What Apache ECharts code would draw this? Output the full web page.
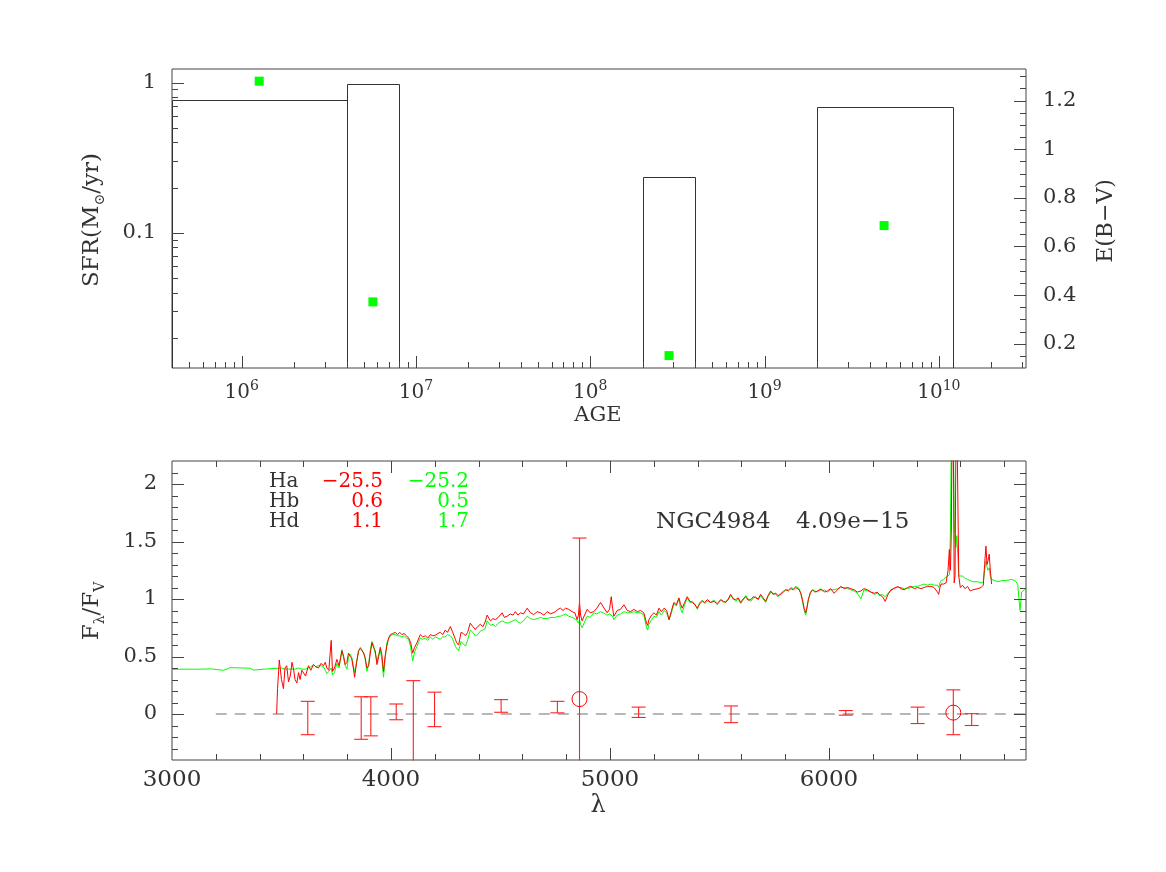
<!DOCTYPE html>
<html>
<head>
<meta charset="utf-8">
<title>NGC4984 SFR / spectrum</title>
<script src="https://cdn.jsdelivr.net/npm/echarts@6/dist/echarts.min.js"></script>
<style>
html, body { margin: 0; padding: 0; background: #fff; }
#chart { width: 1166px; height: 872px; }
</style>
</head>
<body>
<div id="chart"></div>
<script>
// ─── top panel: star formation history ─────────────────────
const ageBinLo = [1e5, 4e6, 2e8, 2e9];
const ageBinHi = [4e6, 8e6, 4e8, 1.2e10];
const sfrValues = [0.76, 0.976, 0.236, 0.69];
const ebvAges = [1.26e6, 5.66e6, 2.83e8, 4.85e9];
const ebvValues = [1.28, 0.372, 0.151, 0.686];

// tick marks (log axes: decade x multiplier)
const ageMajor = [1e6, 1e7, 1e8, 1e9, 1e10];
const ageDecades = [1e5, 1e6, 1e7, 1e8, 1e9, 1e10];
const sfrMajor = [0.1, 1];
const sfrDecades = [0.01, 0.1];
const minorSteps = [2, 3, 4, 5, 6, 7, 8, 9];
const ebvMajor = [0.2, 0.4, 0.6, 0.8, 1.0, 1.2];
const ebvMinorStep = 0.05;
const waveMajor = [3000, 4000, 5000, 6000];
const waveMinorStep = 200;
const fluxMajor = [0, 0.5, 1, 1.5, 2];
const fluxMinorStep = 0.1;

// ─── bottom panel: spectrum, [lambda, F/Fv] ─────────────────
const greenSpectrum = [
  [3000,0.388],[3060,0.390],[3120,0.389],[3180,0.392],[3236,0.380],[3266,0.403],[3320,0.400],[3357,0.398],[3373,0.382],[3420,0.390],[3470,0.396],[3490,0.398],[3500,0.40],[3509,0.395],[3516,0.39],[3524,0.40],[3532,0.39],[3540,0.38],[3548,0.39],[3555,0.40],[3562,0.39],[3570,0.38],[3578,0.40],[3585,0.39],[3593,0.39],[3600,0.40],[3610,0.39],[3623,0.40],[3634,0.41],[3646,0.43],[3657,0.41],[3669,0.42],[3680,0.42],[3692,0.41],[3700,0.38],[3707,0.35],[3716,0.37],[3727,0.40],[3733,0.34],[3742,0.36],[3753,0.44],[3763,0.40],[3776,0.56],[3784,0.48],[3791,0.42],[3799,0.39],[3806,0.50],[3814,0.52],[3821,0.49],[3828,0.42],[3834,0.36],[3843,0.45],[3852,0.55],[3860,0.58],[3867,0.56],[3875,0.53],[3882,0.48],[3890,0.37],[3898,0.43],[3905,0.55],[3913,0.63],[3920,0.60],[3928,0.53],[3936,0.46],[3944,0.52],[3951,0.56],[3958,0.48],[3966,0.32],[3973,0.47],[3981,0.62],[3989,0.65],[3997,0.68],
  [4008,0.69],[4020,0.69],[4030,0.68],[4040,0.68],[4050,0.67],[4060,0.68],[4071,0.66],[4081,0.65],[4090,0.58],[4099,0.46],[4108,0.54],[4119,0.59],[4127,0.63],[4134,0.66],[4145,0.65],[4157,0.66],[4168,0.64],[4180,0.67],[4191,0.65],[4202,0.67],[4214,0.66],[4225,0.65],[4236,0.67],[4248,0.67],[4258,0.69],[4271,0.68],[4280,0.66],[4294,0.59],[4300,0.57],[4309,0.55],[4320,0.63],[4330,0.61],[4340,0.59],[4350,0.64],[4362,0.73],[4374,0.71],[4385,0.68],[4396,0.69],[4408,0.72],[4420,0.73],[4430,0.74],[4439,0.81],[4454,0.77],[4466,0.78],[4477,0.76],[4490,0.79],
  [4507,0.81],[4518,0.80],[4530,0.79],[4545,0.80],[4557,0.81],[4568,0.82],[4580,0.80],[4591,0.79],[4605,0.81],[4622,0.85],[4637,0.83],[4652,0.82],[4668,0.83],[4683,0.84],[4698,0.83],[4713,0.83],[4730,0.84],[4751,0.84],[4763,0.85],[4774,0.85],[4786,0.86],[4797,0.87],[4812,0.85],[4827,0.84],[4840,0.83],[4850,0.81],[4856,0.79],[4861,0.82],[4866,0.78],[4873,0.75],[4884,0.80],[4896,0.85],[4910,0.84],[4926,0.88],[4940,0.87],[4957,0.89],[4970,0.88],[4987,0.86],[4998,0.87],
  [5006,0.88],[5012,0.85],[5018,0.82],[5033,0.86],[5048,0.87],[5064,0.89],[5079,0.88],[5094,0.88],[5109,0.89],[5125,0.88],[5140,0.88],[5155,0.86],[5167,0.75],[5172,0.73],[5178,0.78],[5190,0.82],[5201,0.85],[5212,0.84],[5224,0.89],[5235,0.86],[5247,0.90],[5259,0.88],[5270,0.82],[5281,0.88],[5292,0.96],[5303,0.94],[5315,1.00],[5322,0.92],[5330,0.88],[5341,0.95],[5353,1.01],[5365,0.97],[5376,0.98],[5388,0.96],[5399,0.91],[5410,0.97],[5422,0.99],[5433,0.96],[5445,0.98],[5460,0.97],[5475,0.99],[5490,0.95],
  [5506,0.99],[5518,0.97],[5529,0.98],[5540,0.99],[5551,1.03],[5563,1.01],[5574,0.98],[5586,1.00],[5597,0.96],[5608,0.99],[5620,1.03],[5631,1.00],[5643,0.98],[5655,1.01],[5666,1.02],[5677,0.99],[5688,1.03],[5700,1.00],[5711,0.97],[5722,1.02],[5734,1.06],[5745,1.05],[5757,1.04],[5768,1.02],[5780,1.05],[5792,1.07],[5803,1.08],[5815,1.08],[5826,1.10],[5838,1.09],[5849,1.11],[5864,1.09],[5872,1.04],[5879,0.98],[5887,0.90],[5894,0.86],[5900,0.92],[5906,0.99],[5915,1.06],[5925,1.08],[5936,1.07],[5948,1.06],[5959,1.09],[5970,1.07],[5980,1.08],[5993,1.06],
  [6008,1.08],[6024,1.08],[6039,1.09],[6054,1.10],[6070,1.10],[6085,1.09],[6100,1.08],[6115,1.07],[6130,1.05],[6146,1.00],[6160,1.08],[6176,1.07],[6192,1.06],[6207,1.04],[6220,1.05],[6230,1.03],[6245,1.04],[6257,1.02],[6270,1.05],[6283,1.07],[6298,1.10],[6314,1.10],[6329,1.10],[6344,1.09],[6359,1.09],[6374,1.10],[6390,1.11],[6405,1.11],[6420,1.12],[6435,1.13],[6450,1.12],[6466,1.13],[6480,1.12],[6489,1.13],[6496,1.12],[6501,1.10],[6507,1.14],[6512,1.16],[6524,1.17],[6535,1.19],[6544,1.19],[6550,1.21],[6555,1.60],[6559,2.40],[6563,2.60],[6568,2.50],[6572,1.70],[6576,1.50],[6580,1.45],[6584,1.55],[6588,1.40],[6593,1.20],[6600,1.19],[6610,1.20],[6622,1.18],[6633,1.17],[6645,1.16],[6657,1.15],[6664,1.16],[6680,1.15],[6695,1.14],[6705,1.15],[6711,1.25],[6717,1.33],[6722,1.28],[6726,1.25],[6732,1.27],[6737,1.20],[6743,1.17],[6750,1.16],[6771,1.15],[6790,1.16],[6810,1.16],[6832,1.17],[6850,1.16],[6862,1.13],[6868,1.00],[6873,0.90],[6880,1.06],[6893,1.08],[6905,1.08]
];

const redSpectrum = [
  [3478,0.00],[3482,0.22],[3490,0.47],[3500,0.30],[3509,0.22],[3516,0.40],[3524,0.42],[3532,0.28],[3540,0.33],[3548,0.45],[3555,0.39],[3562,0.30],[3570,0.27],[3578,0.36],[3585,0.30],[3593,0.38],[3600,0.37],[3610,0.33],[3623,0.42],[3634,0.38],[3646,0.43],[3657,0.41],[3669,0.40],[3680,0.44],[3692,0.42],[3700,0.45],[3707,0.40],[3716,0.38],[3727,0.64],[3733,0.37],[3742,0.40],[3753,0.475],[3763,0.42],[3776,0.55],[3784,0.50],[3791,0.43],[3799,0.45],[3806,0.53],[3814,0.50],[3821,0.48],[3828,0.40],[3834,0.32],[3843,0.45],[3852,0.55],[3860,0.57],[3867,0.58],[3875,0.53],[3882,0.49],[3890,0.40],[3898,0.42],[3905,0.52],[3913,0.62],[3920,0.58],[3928,0.55],[3936,0.43],[3944,0.50],[3951,0.58],[3958,0.52],[3966,0.37],[3973,0.50],[3981,0.59],[3989,0.66],[3997,0.69],
  [4008,0.70],[4020,0.71],[4030,0.69],[4040,0.71],[4050,0.69],[4060,0.70],[4071,0.68],[4081,0.66],[4090,0.62],[4099,0.53],[4108,0.58],[4119,0.62],[4127,0.66],[4134,0.69],[4145,0.67],[4157,0.68],[4168,0.66],[4180,0.69],[4191,0.68],[4202,0.685],[4214,0.70],[4225,0.71],[4236,0.69],[4248,0.73],[4258,0.71],[4271,0.76],[4280,0.72],[4294,0.65],[4300,0.62],[4309,0.60],[4320,0.71],[4330,0.70],[4340,0.68],[4350,0.71],[4362,0.79],[4374,0.76],[4385,0.735],[4396,0.76],[4408,0.78],[4420,0.76],[4430,0.80],[4439,0.86],[4454,0.81],[4466,0.83],[4477,0.82],[4490,0.84],
  [4507,0.88],[4518,0.84],[4530,0.85],[4545,0.87],[4557,0.86],[4568,0.89],[4580,0.86],[4591,0.88],[4605,0.87],[4622,0.92],[4637,0.88],[4652,0.865],[4668,0.89],[4683,0.88],[4698,0.86],[4713,0.89],[4730,0.87],[4751,0.89],[4763,0.91],[4774,0.92],[4786,0.90],[4797,0.92],[4812,0.91],[4827,0.89],[4840,0.88],[4850,0.82],[4856,0.86],[4861,0.97],[4866,0.86],[4873,0.81],[4884,0.86],[4896,0.91],[4910,0.88],[4926,0.89],[4940,0.92],[4957,0.97],[4970,0.93],[4987,0.88],[4998,0.91],
  [5006,1.02],[5012,0.92],[5018,0.85],[5033,0.90],[5048,0.91],[5064,0.95],[5079,0.90],[5094,0.89],[5109,0.91],[5125,0.89],[5140,0.90],[5155,0.88],[5167,0.79],[5172,0.77],[5178,0.82],[5190,0.86],[5201,0.88],[5212,0.86],[5224,0.92],[5235,0.89],[5247,0.92],[5259,0.90],[5270,0.82],[5281,0.90],[5292,0.97],[5303,0.95],[5315,1.01],[5322,0.96],[5330,0.92],[5341,0.97],[5353,1.02],[5365,0.98],[5376,0.97],[5388,0.95],[5399,0.92],[5410,0.96],[5422,0.98],[5433,0.97],[5445,0.995],[5460,0.97],[5475,0.98],[5490,0.96],
  [5506,0.995],[5518,0.98],[5529,0.97],[5540,1.00],[5551,1.04],[5563,1.00],[5574,0.995],[5586,1.01],[5597,0.97],[5608,1.00],[5620,1.02],[5631,0.99],[5643,0.995],[5655,1.02],[5666,1.01],[5677,1.00],[5688,1.04],[5700,1.01],[5711,0.98],[5722,1.03],[5734,1.07],[5745,1.04],[5757,1.05],[5768,1.03],[5780,1.04],[5792,1.06],[5803,1.08],[5815,1.07],[5826,1.09],[5838,1.08],[5849,1.10],[5864,1.08],[5872,1.05],[5879,0.995],[5887,0.92],[5894,0.88],[5900,0.93],[5906,0.995],[5915,1.05],[5925,1.08],[5936,1.06],[5948,1.07],[5959,1.08],[5970,1.08],[5980,1.06],[5993,1.07],
  [6008,1.09],[6024,1.05],[6039,1.08],[6054,1.11],[6070,1.09],[6085,1.10],[6100,1.09],[6115,1.08],[6130,1.06],[6146,1.07],[6160,1.09],[6176,1.08],[6192,1.06],[6207,1.05],[6220,1.06],[6230,1.04],[6245,1.02],[6257,0.98],[6270,1.04],[6283,1.08],[6298,1.09],[6314,1.11],[6329,1.09],[6344,1.08],[6359,1.10],[6374,1.11],[6390,1.09],[6405,1.10],[6420,1.09],[6435,1.10],[6450,1.11],[6466,1.11],[6480,1.10],[6489,1.10],[6496,1.06],[6501,1.04],[6507,1.10],[6512,1.13],[6524,1.13],[6535,1.14],[6544,1.25],[6550,1.43],[6555,1.25],[6559,1.60],[6563,2.60],[6568,2.40],[6572,1.14],[6576,1.20],[6580,2.40],[6584,2.60],[6588,2.00],[6593,1.20],[6600,1.10],[6610,1.12],[6622,1.09],[6633,1.11],[6645,1.07],[6657,1.08],[6664,1.07],[6680,1.09],[6695,1.10],[6705,1.12],[6711,1.30],[6717,1.46],[6722,1.30],[6726,1.33],[6732,1.39],[6737,1.25],[6743,1.13]
];

// residual error bars and the two measured lines (Hb, Ha)
const errLambda = [3620, 3864, 3908, 4024, 4102, 4199, 4503, 4760, 4861, 5131, 5553, 6077, 6405, 6568, 6652];
const errLow    = [-0.18, -0.22, -0.19, -0.05, -0.9, -0.11, 0.015, 0.01, -0.9, -0.03, -0.075, -0.01, -0.083, -0.18, -0.10];
const errHigh   = [0.11, 0.15, 0.15, 0.087, 0.29, 0.19, 0.125, 0.11, 1.53, 0.06, 0.07, 0.03, 0.06, 0.21, 0.003];
const markLambda = [4861, 6568];
const markValue  = [0.13, 0.012];
const zeroLine = [[3200, 0], [6900, 0]];

// equivalent widths table
const lineNames = ['Ha', 'Hb', 'Hd'];
const ewRed   = ['\u221225.5', '0.6', '1.1'];
const ewGreen = ['\u221225.2', '0.5', '1.7'];
const objectName = 'NGC4984';
const objectFlux = '4.09e\u221215';

// ─── styling ───────────────────────────────────────────────
const FONT = 'DejaVu Serif';
const INK = '#333';
const FRAME = '#444';
const RED = '#ff0000';
const GREEN = '#00ff00';

const TOP = { left: 172, top: 69, width: 854, height: 299 };
const BOT = { left: 172, top: 461, width: 854, height: 299 };

const chart = echarts.init(document.getElementById('chart'), null, { renderer: 'canvas' });

function isMultiple(v, step) {
  const r = v / step;
  return Math.abs(r - Math.round(r)) < 1e-6;
}

function axisBase(extra) {
  return Object.assign({
    axisLine: { show: false, onZero: false },
    splitLine: { show: false },
    axisTick: { show: false },
    minorTick: { show: false },
    axisLabel: { show: false }
  }, extra);
}

function labelStyle(size, margin, formatter) {
  return { show: true, margin: margin, fontFamily: FONT, fontSize: size, color: INK, formatter: formatter };
}

// linear minor ticks, skipping the majors
function linearMinor(min, max, step, majorStep) {
  const out = [];
  const n0 = Math.ceil(min / step - 1e-9), n1 = Math.floor(max / step + 1e-9);
  for (let k = n0; k <= n1; k++) {
    const v = +(k * step).toFixed(6);
    if (!isMultiple(v, majorStep)) out.push(v);
  }
  return out;
}
function logMinor(decades) {
  const out = [];
  decades.forEach(d => minorSteps.forEach(m => out.push(d * m)));
  return out;
}

// tick marks drawn inward from one side of the frame, through the axis scale
function tickSeries(xi, yi, values, side, len, other) {
  const horiz = side === 'bottom' || side === 'top';
  return {
    type: 'custom', xAxisIndex: xi, yAxisIndex: yi, silent: true, z: 6,
    data: values.map(v => horiz ? [v, other] : [other, v]),
    renderItem: (params, api) => {
      const cs = params.coordSys;
      const p = api.coord([api.value(0), api.value(1)]);
      if (horiz) {
        if (p[0] < cs.x + 1 || p[0] > cs.x + cs.width - 1) return;
        const x = Math.round(p[0]) + 0.5;
        const y0 = side === 'bottom' ? cs.y + cs.height : cs.y;
        const y1 = side === 'bottom' ? y0 - len : y0 + len;
        return { type: 'line', shape: { x1: x, y1: y0, x2: x, y2: y1 }, style: { stroke: FRAME, lineWidth: 1 } };
      }
      if (p[1] < cs.y + 1 || p[1] > cs.y + cs.height - 1) return;
      const y = Math.round(p[1]) + 0.5;
      const x0 = side === 'left' ? cs.x : cs.x + cs.width;
      const x1 = side === 'left' ? x0 + len : x0 - len;
      return { type: 'line', shape: { x1: x0, y1: y, x2: x1, y2: y }, style: { stroke: FRAME, lineWidth: 1 } };
    }
  };
}

const ageMinor = logMinor(ageDecades);
const sfrMinor = logMinor(sfrDecades);
const ebvMinor = linearMinor(0.1, 1.33, ebvMinorStep, 0.2);
const waveMinor = linearMinor(3000, 6900, waveMinorStep, 1000);
const fluxMinor = linearMinor(-0.4, 2.2, fluxMinorStep, 0.5);

// error bars: stems as one broken line, caps as flat rect symbols
const errStems = [];
errLambda.forEach((l, i) => {
  errStems.push([l, errLow[i]], [l, errHigh[i]], [l, null]);
});
const errCaps = [];
errLambda.forEach((l, i) => {
  errCaps.push([l, errLow[i]], [l, errHigh[i]]);
});

const option = {
  animation: false,
  backgroundColor: '#fff',
  grid: [
    Object.assign({ show: true, borderColor: FRAME, borderWidth: 1, outerBoundsMode: 'none' }, TOP),
    Object.assign({ show: true, borderColor: FRAME, borderWidth: 1, outerBoundsMode: 'none' }, BOT)
  ],
  xAxis: [
    axisBase({
      gridIndex: 0, type: 'log', logBase: 10, position: 'bottom',
      min: Math.pow(10, 5.6), max: Math.pow(10, 10.5),
      axisLabel: {
        show: true, margin: 11,
        formatter: v => {
          const e = Math.log10(v);
          if (Math.abs(e - Math.round(e)) > 1e-6) return '';
          return '{b|10}{s|' + Math.round(e) + '}';
        },
        rich: {
          b: { fontFamily: FONT, fontSize: 20, color: INK, lineHeight: 24, verticalAlign: 'bottom' },
          s: { fontFamily: FONT, fontSize: 14, color: INK, lineHeight: 14, verticalAlign: 'top' }
        }
      }
    }),
    axisBase({
      gridIndex: 1, type: 'value', position: 'bottom', min: 3000, max: 6900, interval: 1000,
      axisLabel: labelStyle(23, 9, v => isMultiple(v, 1000) ? String(v) : '')
    })
  ],
  yAxis: [
    axisBase({
      gridIndex: 0, type: 'log', logBase: 10, position: 'left',
      min: Math.pow(10, -1.9), max: Math.pow(10, 0.09),
      axisLabel: labelStyle(21, 16, v => {
        const e = Math.log10(v);
        if (Math.abs(e - Math.round(e)) > 1e-6) return '';
        return String(+Math.pow(10, Math.round(e)).toPrecision(1));
      })
    }),
    axisBase({
      gridIndex: 0, type: 'value', position: 'right', min: 0.1, max: 1.33,
      axisLabel: labelStyle(21, 17, v => isMultiple(v, 0.2) ? String(+v.toFixed(1)) : '')
    }),
    axisBase({
      gridIndex: 1, type: 'value', position: 'left', min: -0.4, max: 2.2,
      axisLabel: labelStyle(21, 15, v => isMultiple(v, 0.5) ? String(+v.toFixed(1)) : '')
    })
  ],
  series: [
    {
      type: 'custom', name: 'SFR', xAxisIndex: 0, yAxisIndex: 0,
      encode: { x: [0, 1], y: 2 },
      data: ageBinLo.map((lo, i) => [lo, ageBinHi[i], sfrValues[i]]),
      renderItem: (params, api) => {
        const cs = params.coordSys;
        const a = api.coord([api.value(0), api.value(2)]);
        const b = api.coord([api.value(1), api.value(2)]);
        const bottom = cs.y + cs.height;
        const xa = Math.round(Math.max(a[0], cs.x)) + 0.5;
        const xb = Math.round(Math.min(b[0], cs.x + cs.width)) + 0.5;
        const yt = Math.round(a[1]) + 0.5;
        return {
          type: 'polyline',
          shape: { points: [[xa, bottom], [xa, yt], [xb, yt], [xb, bottom]] },
          style: { fill: null, stroke: INK, lineWidth: 1 }
        };
      },
      z: 3
    },
    tickSeries(0, 0, ageMajor, 'bottom', 12, 0.1),
    tickSeries(0, 0, ageMinor, 'bottom', 6, 0.1),
    tickSeries(0, 0, sfrMajor, 'left', 12, 1e6),
    tickSeries(0, 0, sfrMinor, 'left', 6, 1e6),
    tickSeries(0, 1, ebvMajor, 'right', 12, 1e6),
    tickSeries(0, 1, ebvMinor, 'right', 6, 1e6),
    {
      type: 'scatter', name: 'E(B-V)', xAxisIndex: 0, yAxisIndex: 1,
      symbol: 'rect', symbolSize: 9,
      itemStyle: { color: GREEN, opacity: 1 },
      data: ebvAges.map((a, i) => [a, ebvValues[i]]),
      z: 4
    },
    tickSeries(1, 2, waveMajor, 'bottom', 12, 0),
    tickSeries(1, 2, waveMajor, 'top', 12, 0),
    tickSeries(1, 2, waveMinor, 'bottom', 6, 0),
    tickSeries(1, 2, waveMinor, 'top', 6, 0),
    tickSeries(1, 2, fluxMajor, 'left', 12, 4000),
    tickSeries(1, 2, fluxMajor, 'right', 12, 4000),
    tickSeries(1, 2, fluxMinor, 'left', 6, 4000),
    tickSeries(1, 2, fluxMinor, 'right', 6, 4000),
    {
      type: 'line', name: 'zero', xAxisIndex: 1, yAxisIndex: 2,
      data: zeroLine, symbol: 'none',
      lineStyle: { color: '#707070', width: 1.2, type: [11, 8] },
      z: 1
    },
    {
      type: 'line', name: 'model', xAxisIndex: 1, yAxisIndex: 2,
      data: greenSpectrum, symbol: 'none', clip: true,
      lineStyle: { color: GREEN, width: 1 }, z: 2
    },
    {
      type: 'line', name: 'observed', xAxisIndex: 1, yAxisIndex: 2,
      data: redSpectrum, symbol: 'none', clip: true,
      lineStyle: { color: RED, width: 1 }, z: 3
    },
    {
      type: 'line', name: 'error stems', xAxisIndex: 1, yAxisIndex: 2,
      data: errStems, symbol: 'none', clip: true, connectNulls: false,
      lineStyle: { color: '#ff2020', width: 1.1 }, z: 8
    },
    {
      type: 'scatter', name: 'error caps', xAxisIndex: 1, yAxisIndex: 2,
      data: errCaps, symbol: 'rect', symbolSize: [14, 1.1], clip: true,
      itemStyle: { color: '#ff2020', opacity: 1 }, z: 8
    },
    {
      type: 'scatter', name: 'lines', xAxisIndex: 1, yAxisIndex: 2,
      symbol: 'circle', symbolSize: 15,
      itemStyle: { color: 'rgba(0,0,0,0)', borderColor: RED, borderWidth: 1, opacity: 1 },
      data: markLambda.map((l, i) => [l, markValue[i]]),
      z: 9
    }
  ],
  graphic: []
};

function txt(text, x, y, size, fill, align, extra) {
  return Object.assign({
    type: 'text', x: x, y: y, silent: true,
    style: {
      text: text, fill: fill || INK,
      font: size + 'px "' + FONT + '"',
      align: align || 'center', verticalAlign: 'middle',
      textAlign: align || 'center', textVerticalAlign: 'middle'
    }
  }, extra || {});
}

function richTxt(text, x, y, rich, rotation) {
  return {
    type: 'text', x: x, y: y, rotation: rotation || 0, silent: true,
    style: {
      text: text, rich: rich, fill: INK,
      align: 'center', verticalAlign: 'middle',
      textAlign: 'center', textVerticalAlign: 'middle'
    }
  };
}

const base = size => ({ fontFamily: FONT, fontSize: size, fill: INK, color: INK, lineHeight: 30, verticalAlign: 'middle' });
const sub = size => ({ fontFamily: FONT, fontSize: size, fill: INK, color: INK, lineHeight: size, verticalAlign: 'bottom' });

option.graphic.push(
  txt('AGE', 598, 416, 21),
  txt('\u03bb', 598, 806, 24),
  txt('E(B\u2212V)', 1106, 221, 22, INK, 'center', { rotation: Math.PI / 2 }),
  richTxt('{a|SFR(M}{s|\u2299}{a|/yr)}', 92, 220, { a: base(23), s: sub(14) }, Math.PI / 2),
  richTxt('{a|F}{s|\u03bb}{a|/F}{s|V}', 92, 611, { a: base(23), s: sub(14) }, Math.PI / 2),
  txt(objectName, 656, 522, 23, INK, 'left'),
  txt(objectFlux, 796, 522, 23, INK, 'left')
);

const rowY = [482, 502, 522];
lineNames.forEach((name, i) => {
  option.graphic.push(
    txt(name, 269, rowY[i], 20, INK, 'left'),
    txt(ewRed[i], 383, rowY[i], 20, RED, 'right'),
    txt(ewGreen[i], 469, rowY[i], 20, GREEN, 'right')
  );
});

chart.setOption(option);
</script>
</body>
</html>
